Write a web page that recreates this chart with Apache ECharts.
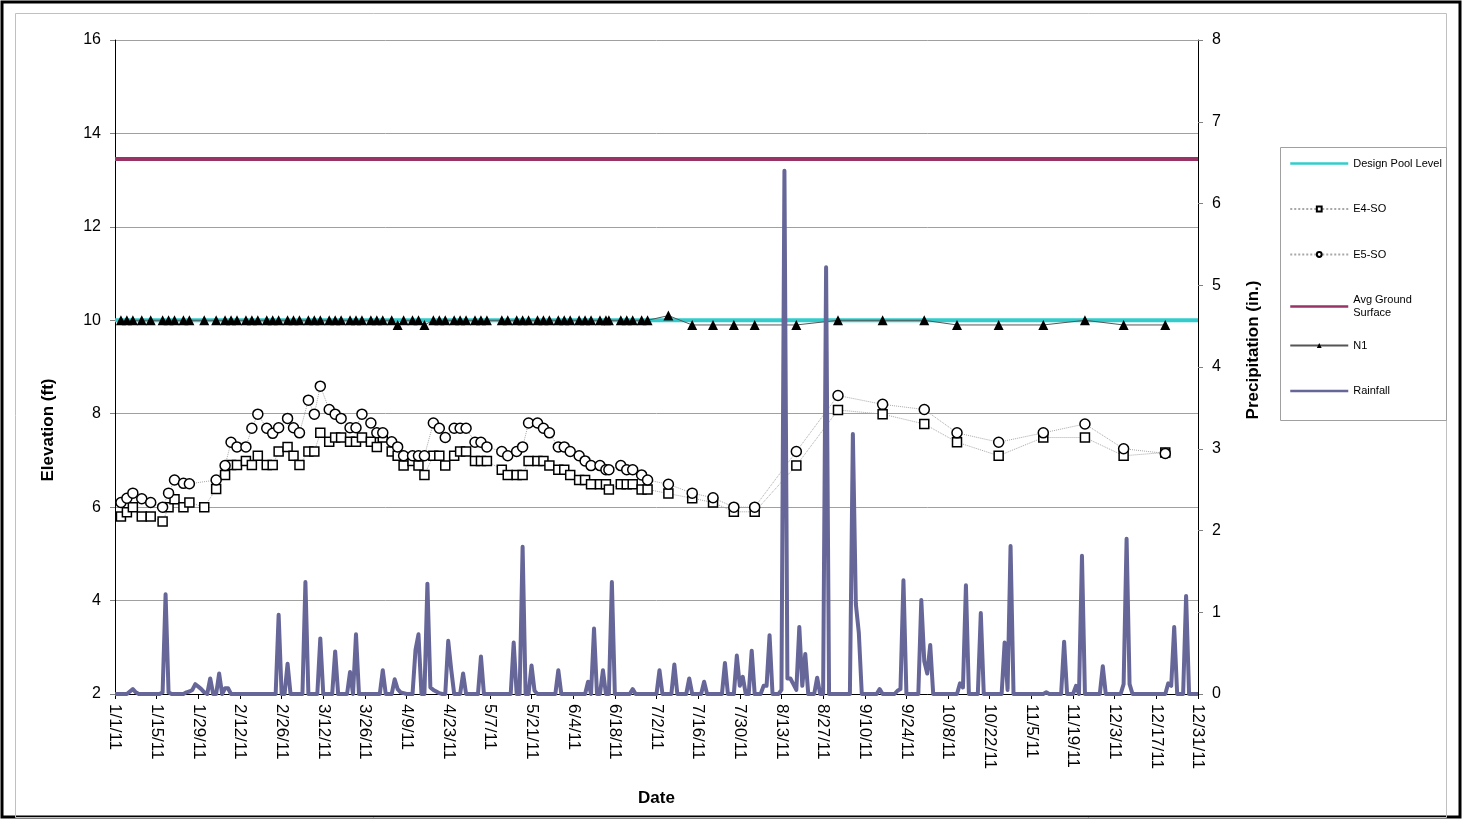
<!DOCTYPE html>
<html>
<head>
<meta charset="utf-8">
<title>Elevation and Precipitation 2011</title>
<script src="https://cdn.jsdelivr.net/npm/echarts@6/dist/echarts.min.js"></script>
<style>
    html, body { margin: 0; padding: 0; background: #fff; }
    #chart { width: 1465px; height: 819px; }
</style>
</head>
<body>
<div id="chart"></div>
<script>
    // days after 1/1/11 on which the wells were read
    var obsDays = [2, 4, 6, 9, 12, 16, 18, 20, 23, 25, 30, 34, 37, 39, 41, 44, 46, 48,
        51, 53, 55, 58, 60, 62, 65, 67, 69, 72, 74, 76, 79, 81, 83, 86, 88, 90,
        93, 95, 97, 100, 102, 104, 107, 109, 111, 114, 116, 118, 121, 123, 125, 130, 132, 135,
        137, 139, 142, 144, 146, 149, 151, 153, 156, 158, 160, 163, 165, 166, 170, 172, 174, 177,
        179, 186, 194, 201, 208, 215, 229, 243, 258, 272, 283, 297, 312, 326, 339, 353];

    var e4 = [5.80, 5.89, 6.00, 5.80, 5.80, 5.69, 6.00, 6.17, 6.00, 6.10, 6.00, 6.39, 6.69, 6.90, 6.90, 6.99, 6.90, 7.10,
        6.90, 6.90, 7.19, 7.29, 7.10, 6.90, 7.19, 7.19, 7.59, 7.40, 7.49, 7.49, 7.40, 7.40, 7.49, 7.40, 7.29, 7.49,
        7.19, 7.10, 6.89, 6.99, 6.89, 6.69, 7.10, 7.10, 6.89, 7.10, 7.19, 7.19, 6.99, 6.99, 6.99, 6.80, 6.69, 6.69,
        6.69, 6.99, 6.99, 6.99, 6.89, 6.80, 6.80, 6.69, 6.58, 6.58, 6.49, 6.49, 6.49, 6.38, 6.49, 6.49, 6.49, 6.38,
        6.38, 6.29, 6.19, 6.10, 5.90, 5.90, 6.89, 8.08, 7.99, 7.78, 7.39, 7.10, 7.49, 7.49, 7.10, 7.17];

    var e5 = [6.10, 6.19, 6.30, 6.18, 6.10, 6.00, 6.30, 6.58, 6.51, 6.50, null, 6.58, 6.89, 7.39, 7.29, 7.29, 7.69, 7.99,
        7.69, 7.58, 7.70, 7.90, 7.70, 7.59, 8.29, 7.99, 8.59, 8.09, 7.99, 7.90, 7.70, 7.70, 7.99, 7.80, 7.59, 7.59,
        7.40, 7.29, 7.10, 7.10, 7.10, 7.10, 7.80, 7.69, 7.49, 7.69, 7.69, 7.69, 7.39, 7.39, 7.29, 7.19, 7.10, 7.19,
        7.29, 7.80, 7.80, 7.69, 7.59, 7.29, 7.29, 7.19, 7.10, 6.99, 6.89, 6.89, 6.80, 6.80, 6.89, 6.80, 6.80, 6.69,
        6.58, 6.49, 6.30, 6.20, 6.00, 6.00, 7.19, 8.39, 8.20, 8.09, 7.59, 7.39, 7.59, 7.78, 7.25, 7.15];

    var n1 = [10.0, 10.0, 10.0, 10.0, 10.0, 10.0, 10.0, 10.0, 10.0, 10.0, 10.0, 10.0, 10.0, 10.0, 10.0, 10.0, 10.0, 10.0,
        10.0, 10.0, 10.0, 10.0, 10.0, 10.0, 10.0, 10.0, 10.0, 10.0, 10.0, 10.0, 10.0, 10.0, 10.0, 10.0, 10.0, 10.0,
        10.0, 9.9, 10.0, 10.0, 10.0, 9.9, 10.0, 10.0, 10.0, 10.0, 10.0, 10.0, 10.0, 10.0, 10.0, 10.0, 10.0, 10.0,
        10.0, 10.0, 10.0, 10.0, 10.0, 10.0, 10.0, 10.0, 10.0, 10.0, 10.0, 10.0, 10.0, 10.0, 10.0, 10.0, 10.0, 10.0,
        10.0, 10.1, 9.9, 9.9, 9.9, 9.9, 9.9, 10.0, 10.0, 10.0, 9.9, 9.9, 9.9, 10.0, 9.9, 9.9];

    var designPool = 10.0;
    var avgGround = 13.45;

    // daily rainfall (in.), one row per 14 days starting 1/1/11
    var rainfall = [
        0, 0, 0, 0, 0, 0.03, 0.06, 0.02, 0, 0, 0, 0, 0, 0,
        0, 0, 0.02, 1.22, 0.02, 0, 0, 0, 0, 0, 0.02, 0.03, 0.05, 0.12,
        0.09, 0.06, 0.02, 0, 0.19, 0, 0, 0.25, 0, 0.07, 0.07, 0, 0, 0,
        0, 0, 0, 0, 0, 0, 0, 0, 0, 0, 0, 0, 0, 0.97,
        0, 0, 0.37, 0, 0, 0, 0, 0, 1.37, 0, 0, 0, 0, 0.68,
        0, 0, 0, 0, 0.52, 0, 0, 0, 0, 0.27, 0, 0.73, 0, 0,
        0, 0, 0, 0, 0, 0, 0.29, 0, 0, 0, 0.18, 0.06, 0.02, 0.01,
        0, 0, 0, 0.54, 0.73, 0, 0, 1.35, 0.08, 0.05, 0.03, 0.01, 0, 0,
        0.65, 0.30, 0, 0, 0, 0.25, 0, 0, 0, 0, 0, 0.46, 0, 0,
        0, 0, 0, 0, 0, 0, 0, 0, 0.63, 0, 0, 1.80, 0, 0,
        0.35, 0.04, 0, 0, 0, 0, 0, 0, 0, 0.29, 0, 0, 0, 0,
        0, 0, 0, 0, 0, 0.15, 0, 0.80, 0, 0, 0.29, 0, 0, 1.37,
        0, 0, 0, 0, 0, 0, 0.06, 0, 0, 0, 0, 0, 0, 0,
        0, 0.29, 0, 0, 0, 0, 0.36, 0, 0, 0, 0, 0.19, 0, 0,
        0, 0, 0.15, 0, 0, 0, 0, 0, 0, 0.38, 0, 0, 0, 0.47,
        0.10, 0.21, 0, 0, 0.53, 0, 0, 0, 0.10, 0.10, 0.72, 0, 0, 0,
        0.05, 6.40, 0.19, 0.19, 0.12, 0.05, 0.82, 0.10, 0.49, 0, 0, 0, 0.20, 0,
        0, 5.22, 0, 0, 0, 0, 0, 0, 0, 0, 3.18, 1.10, 0.75, 0,
        0, 0, 0, 0, 0, 0.06, 0, 0, 0, 0, 0, 0.04, 0.06, 1.39,
        0, 0, 0, 0, 0, 1.15, 0.40, 0.25, 0.60, 0, 0, 0, 0, 0,
        0, 0, 0, 0, 0.13, 0.08, 1.33, 0, 0, 0, 0, 0.99, 0, 0,
        0, 0, 0, 0, 0, 0.63, 0.05, 1.81, 0, 0, 0, 0, 0, 0,
        0, 0, 0, 0, 0, 0.02, 0, 0, 0, 0, 0, 0.64, 0, 0,
        0, 0.10, 0, 1.69, 0, 0, 0, 0, 0, 0, 0.34, 0, 0, 0,
        0, 0, 0, 0.12, 1.90, 0.12, 0, 0, 0, 0, 0, 0, 0, 0,
        0, 0, 0, 0, 0.13, 0.10, 0.82, 0, 0, 0, 1.20, 0, 0, 0,
        0
    ];

    function dayLabel(d) {
        var dt = new Date(2011, 0, 1 + d);
        return (dt.getMonth() + 1) + '/' + dt.getDate() + '/11';
    }

    function pairs(days, vals) {
        return days.map(function (d, i) { return [d, vals[i]]; });
    }

    var font = 'Liberation Sans, Arial, sans-serif';
    var chart = echarts.init(document.getElementById('chart'));

    var legendText = { fontSize: 11, lineHeight: 13, color: '#000', fontFamily: font };
    var noMarker = { opacity: 0 };

    var option = {
        backgroundColor: '#fff',
        animation: false,
        textStyle: { fontFamily: font, color: '#000' },
        grid: { left: 115, right: 267, top: 40, bottom: 125 },
        legend: [
            {
                orient: 'vertical',
                left: 1289,
                top: 157,
                padding: 0,
                itemWidth: 58,
                itemHeight: 6,
                itemGap: 32.5,
                textStyle: legendText,
                formatter: function (name) {
                    return name === 'Avg Ground Surface' ? 'Avg Ground\nSurface' : name;
                },
                data: [
                    { name: 'Design Pool Level', lineStyle: { width: 2.5 }, itemStyle: noMarker },
                    { name: 'E4-SO' },
                    { name: 'E5-SO' },
                    { name: 'Avg Ground Surface', lineStyle: { width: 2.5 }, itemStyle: noMarker }
                ]
            },
            {
                orient: 'vertical',
                left: 1289,
                top: 339,
                padding: 0,
                itemWidth: 58,
                itemHeight: 6,
                itemGap: 32.5,
                textStyle: legendText,
                data: [
                    { name: 'N1' },
                    { name: 'Rainfall', lineStyle: { width: 2.5 }, itemStyle: noMarker }
                ]
            }
        ],
        xAxis: {
            type: 'value',
            min: 0,
            max: 364,
            interval: 14,
            name: 'Date',
            nameLocation: 'middle',
            nameGap: 96,
            nameTextStyle: { fontSize: 17, fontWeight: 'bold', color: '#000' },
            axisLine: { show: true, onZero: false, lineStyle: { color: '#000', width: 1 } },
            axisTick: { show: true, length: 5, lineStyle: { color: '#000' } },
            axisLabel: {
                rotate: -90,
                margin: 10,
                fontSize: 17,
                color: '#000',
                formatter: dayLabel
            },
            splitLine: { show: false }
        },
        yAxis: [
            {
                type: 'value',
                min: 2,
                max: 16,
                interval: 2,
                axisLine: { show: true, lineStyle: { color: '#000', width: 1 } },
                axisTick: { show: true, length: 5, lineStyle: { color: '#808080' } },
                axisLabel: { fontSize: 16, color: '#000', margin: 14 },
                splitLine: { show: true, lineStyle: { color: '#a0a0a0', width: 1 } }
            },
            {
                type: 'value',
                min: 0,
                max: 8,
                interval: 1,
                position: 'right',
                axisLine: { show: true, lineStyle: { color: '#000', width: 1 } },
                axisTick: { show: true, length: 5, lineStyle: { color: '#808080' } },
                axisLabel: { fontSize: 16, color: '#000', margin: 14 },
                splitLine: { show: false }
            }
        ],
        graphic: [
            {
                type: 'rect',
                shape: { x: 2, y: 2, width: 1458, height: 815 },
                style: { fill: 'none', stroke: '#000', lineWidth: 3 },
                silent: true
            },
            {
                type: 'rect',
                shape: { x: 15.5, y: 13.5, width: 1431, height: 804 },
                style: { fill: 'none', stroke: '#c0c0c0', lineWidth: 1 },
                silent: true
            },
            {
                type: 'rect',
                shape: { x: 1280.5, y: 147.5, width: 166, height: 273 },
                style: { fill: 'none', stroke: '#a0a0a0', lineWidth: 1 },
                silent: true
            },
            {
                type: 'text',
                x: 48,
                y: 430,
                rotation: Math.PI / 2,
                style: {
                    text: 'Elevation (ft)',
                    font: 'bold 17px ' + font,
                    fill: '#000',
                    align: 'center',
                    verticalAlign: 'middle'
                }
            },
            {
                type: 'text',
                x: 1253,
                y: 350,
                rotation: Math.PI / 2,
                style: {
                    text: 'Precipitation (in.)',
                    font: 'bold 17px ' + font,
                    fill: '#000',
                    align: 'center',
                    verticalAlign: 'middle'
                }
            }
        ],
        series: [
            {
                name: 'Design Pool Level',
                type: 'line',
                symbol: 'none',
                data: [[0, designPool], [364, designPool]],
                lineStyle: { color: '#33cccc', width: 4 },
                itemStyle: { color: '#33cccc' }
            },
            {
                name: 'E4-SO',
                type: 'line',
                symbol: 'rect',
                symbolSize: 9,
                connectNulls: true,
                data: pairs(obsDays, e4),
                lineStyle: { color: '#a8a8a8', width: 1, type: 'dotted' },
                itemStyle: { color: '#fff', borderColor: '#000', borderWidth: 1.5 }
            },
            {
                name: 'E5-SO',
                type: 'line',
                symbol: 'circle',
                symbolSize: 10,
                connectNulls: true,
                data: pairs(obsDays, e5),
                lineStyle: { color: '#a8a8a8', width: 1, type: 'dotted' },
                itemStyle: { color: '#fff', borderColor: '#000', borderWidth: 1.5 }
            },
            {
                name: 'Avg Ground Surface',
                type: 'line',
                symbol: 'none',
                data: [[0, avgGround], [364, avgGround]],
                lineStyle: { color: '#993366', width: 4 },
                itemStyle: { color: '#993366' }
            },
            {
                name: 'N1',
                type: 'line',
                symbol: 'triangle',
                symbolSize: 10,
                data: pairs(obsDays, n1),
                lineStyle: { color: '#555', width: 1 },
                itemStyle: { color: '#000' }
            },
            {
                name: 'Rainfall',
                type: 'line',
                yAxisIndex: 1,
                symbol: 'none',
                data: rainfall.map(function (v, i) { return [i, v]; }),
                lineStyle: { color: '#666699', width: 4, join: 'round' },
                itemStyle: { color: '#666699' }
            }
        ]
    };

    chart.setOption(option);
</script>
</body>
</html>
